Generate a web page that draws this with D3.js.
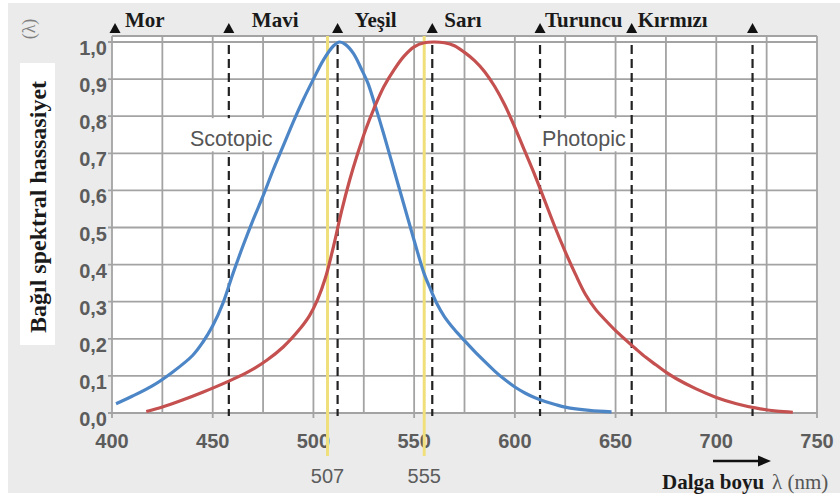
<!DOCTYPE html>
<html>
<head>
<meta charset="utf-8">
<script src="https://cdn.jsdelivr.net/npm/d3@7"></script>
<style>
  html, body { margin: 0; padding: 0; background: #ffffff; }
  svg { display: block; }
</style>
</head>
<body>
<svg id="chart" width="840" height="497"></svg>
<script>
// Wavelength axis (nm) and relative sensitivity axis
const wavelengthTicks = [400, 450, 500, 550, 600, 650, 700, 750];
const wavelengthGrid = [400, 425, 450, 475, 500, 525, 550, 575, 600, 625, 650, 675, 700, 725, 750];
const sensitivityTicks = [0, 0.1, 0.2, 0.3, 0.4, 0.5, 0.6, 0.7, 0.8, 0.9, 1.0];
const sensitivityLabels = ["0,0", "0,1", "0,2", "0,3", "0,4", "0,5", "0,6", "0,7", "0,8", "0,9", "1,0"];

// Colour bands of the visible spectrum and their boundaries (nm)
const bandNames = ["Mor", "Mavi", "Yeşil", "Sarı", "Turuncu", "Kırmızı"];
const bandBounds = [401.5, 458, 512, 559, 612.5, 658, 718];

// Peak sensitivity wavelengths (nm)
const peakWavelengths = [507, 555];

// Scotopic (rod) sensitivity curve
const scotopicNm = [402, 410, 420, 430, 440, 445, 450, 455, 460, 465, 470, 475, 480, 485, 490, 495, 500, 505, 510, 513,
                    516, 520, 524, 527, 530, 535, 540, 545, 550, 555, 558, 561, 565, 570, 575, 580, 585, 590, 595, 600,
                    605, 610, 615, 620, 625, 637, 648];
const scotopicVal = [0.025, 0.045, 0.073, 0.11, 0.155, 0.19, 0.235, 0.295, 0.375, 0.45, 0.52, 0.585, 0.655, 0.72, 0.785, 0.845, 0.90, 0.952, 0.99, 1.0,
                     0.993, 0.968, 0.925, 0.89, 0.84, 0.75, 0.655, 0.56, 0.465, 0.375, 0.335, 0.298, 0.26, 0.225, 0.195, 0.166, 0.139, 0.113, 0.09, 0.07,
                     0.054, 0.041, 0.031, 0.023, 0.016, 0.007, 0.003];

// Photopic (cone) sensitivity curve
const photopicNm = [417, 425, 435, 445, 458, 468, 477, 485, 493, 498, 502, 506, 510, 514, 518, 522, 526, 530, 535, 540,
                    545, 550, 555, 560, 565, 570, 575, 580, 585, 590, 595, 600, 605, 610, 615, 620, 625, 630, 635, 640,
                    645, 650, 655, 660, 665, 670, 675, 680, 690, 700, 710, 720, 730, 738];
const photopicVal = [0.004, 0.016, 0.035, 0.056, 0.086, 0.112, 0.143, 0.178, 0.225, 0.262, 0.305, 0.365, 0.45, 0.545, 0.628, 0.70, 0.765, 0.82, 0.88, 0.925,
                     0.962, 0.987, 0.998, 1.0, 0.998, 0.99, 0.972, 0.95, 0.92, 0.88, 0.83, 0.77, 0.705, 0.64, 0.57, 0.50, 0.435, 0.375, 0.32, 0.28,
                     0.25, 0.222, 0.197, 0.173, 0.15, 0.13, 0.11, 0.093, 0.065, 0.042, 0.025, 0.013, 0.005, 0.002];

const svg = d3.select("#chart");

const plot = { left: 112, right: 817, top: 36, bottom: 413, yTop: 42 };
const x = d3.scaleLinear().domain([400, 750]).range([plot.left, plot.right]);
const y = d3.scaleLinear().domain([0, 1]).range([plot.bottom, plot.yTop]);

const sans = "'Liberation Sans', Arial, Helvetica, sans-serif";
const serif = "'Liberation Serif', 'Times New Roman', serif";
const tickGray = "#5c5c5c";
const gridGray = "#a3a3a3";

// Page background
svg.append("rect").attr("x", 8).attr("y", 3).attr("width", 832).attr("height", 490).attr("fill", "#ebebeb");

// Plot area
svg.append("rect")
  .attr("x", plot.left).attr("y", plot.top)
  .attr("width", plot.right - plot.left).attr("height", plot.bottom - plot.top)
  .attr("fill", "#ffffff");

// Horizontal grid
svg.append("g").selectAll("line").data(sensitivityTicks).join("line")
  .attr("x1", plot.left - 4).attr("x2", plot.right)
  .attr("y1", d => y(d)).attr("y2", d => y(d))
  .attr("stroke", gridGray).attr("stroke-width", 1.8);

// Frame top edge
svg.append("line")
  .attr("x1", plot.left).attr("x2", plot.right).attr("y1", plot.top).attr("y2", plot.top)
  .attr("stroke", gridGray).attr("stroke-width", 1.8);

// Vertical grid
svg.append("g").selectAll("line").data(wavelengthGrid).join("line")
  .attr("x1", d => x(d)).attr("x2", d => x(d))
  .attr("y1", plot.top).attr("y2", d => wavelengthTicks.includes(d) ? plot.bottom + 5 : plot.bottom)
  .attr("stroke", gridGray).attr("stroke-width", 1.8);

// Axis tick labels
svg.append("g").selectAll("text").data(wavelengthTicks).join("text")
  .attr("x", d => x(d)).attr("y", 448)
  .attr("text-anchor", "middle")
  .attr("font-family", sans).attr("font-size", 20).attr("font-weight", "bold")
  .attr("fill", tickGray)
  .text(d => d);

svg.append("g").selectAll("text").data(sensitivityTicks).join("text")
  .attr("x", 107).attr("y", d => y(d) + 13)
  .attr("text-anchor", "end")
  .attr("font-family", sans).attr("font-size", 20).attr("font-weight", "bold")
  .attr("fill", tickGray)
  .text((d, i) => sensitivityLabels[i]);

// Peak wavelength markers
svg.append("g").selectAll("line").data(peakWavelengths).join("line")
  .attr("x1", d => x(d)).attr("x2", d => x(d))
  .attr("y1", plot.top).attr("y2", 456)
  .attr("stroke", "#efe07c").attr("stroke-width", 3);

svg.append("g").selectAll("text").data(peakWavelengths).join("text")
  .attr("x", d => x(d)).attr("y", 483)
  .attr("text-anchor", "middle")
  .attr("font-family", sans).attr("font-size", 20)
  .attr("fill", tickGray)
  .text(d => d);

// Band boundaries: dashed lines
svg.append("g").selectAll("line").data(bandBounds.slice(1)).join("line")
  .attr("x1", d => x(d)).attr("x2", d => x(d))
  .attr("y1", plot.top + 9).attr("y2", plot.bottom + 3)
  .attr("stroke", "#222222").attr("stroke-width", 2.2)
  .attr("stroke-dasharray", "9,5");

// Band boundary triangles
svg.append("g").selectAll("path").data(bandBounds).join("path")
  .attr("d", d => `M${x(d) - 5.5},33 L${x(d) + 5.5},33 L${x(d)},23 Z`)
  .attr("fill", "#111111");

// Band names
const bandLabelOffset = [10, 23, 17, 12, 5, 6];
svg.append("g").selectAll("text").data(bandNames).join("text")
  .attr("x", (d, i) => x(bandBounds[i]) + bandLabelOffset[i]).attr("y", 27)
  .attr("font-family", serif).attr("font-size", 21).attr("font-weight", "bold")
  .attr("fill", "#1a1a1a")
  .text(d => d);

// Sensitivity curves
const line = d3.line().curve(d3.curveCatmullRom.alpha(0.5));
const curves = [
  { nm: scotopicNm, val: scotopicVal, color: "#4d86c6" },
  { nm: photopicNm, val: photopicVal, color: "#c4504f" }
];
svg.append("g").selectAll("path").data(curves).join("path")
  .attr("d", c => line(c.nm.map((n, i) => [x(n), y(c.val[i])])))
  .attr("fill", "none")
  .attr("stroke", c => c.color)
  .attr("stroke-width", 3.2)
  .attr("stroke-linejoin", "round");

// Curve names with white boxes
const curveNames = [
  { text: "Scotopic", at: 438.7 },
  { text: "Photopic", at: 613.5 }
];
curveNames.forEach(c => {
  const g = svg.append("g");
  const t = g.append("text")
    .attr("x", x(c.at)).attr("y", 146)
    .attr("font-family", sans).attr("font-size", 21.5)
    .attr("fill", "#555555")
    .text(c.text);
  const b = t.node().getBBox();
  g.insert("rect", "text")
    .attr("x", b.x - 4).attr("y", y(0.8) + 2)
    .attr("width", b.width + 8).attr("height", y(0.7) - y(0.8) - 4)
    .attr("fill", "#ffffff");
});

// Y axis title
svg.append("rect").attr("x", 20).attr("y", 63).attr("width", 35).attr("height", 282).attr("fill", "#ffffff");
svg.append("text")
  .attr("transform", "translate(46,333) rotate(-90)")
  .attr("font-family", serif).attr("font-size", 24).attr("font-weight", "bold")
  .attr("fill", "#1a1a1a")
  .text("Bağıl spektral hassasiyet");
svg.append("text")
  .attr("transform", "translate(35,29) rotate(-90)")
  .attr("text-anchor", "middle")
  .attr("font-family", serif).attr("font-size", 18)
  .attr("fill", "#808080")
  .text("(λ)");

// X axis title with arrow
svg.append("line")
  .attr("x1", 713).attr("x2", 760).attr("y1", 461).attr("y2", 461)
  .attr("stroke", "#111111").attr("stroke-width", 2.5);
svg.append("path")
  .attr("d", "M758,455.5 L771,461 L758,466.5 Z")
  .attr("fill", "#111111");
svg.append("text")
  .attr("x", 662).attr("y", 489)
  .attr("font-family", serif).attr("font-size", 21).attr("font-weight", "bold")
  .attr("fill", "#1a1a1a")
  .text("Dalga boyu");
svg.append("text")
  .attr("x", 772).attr("y", 489)
  .attr("font-family", serif).attr("font-size", 21)
  .attr("fill", "#555555")
  .text("λ (nm)");
</script>
</body>
</html>
